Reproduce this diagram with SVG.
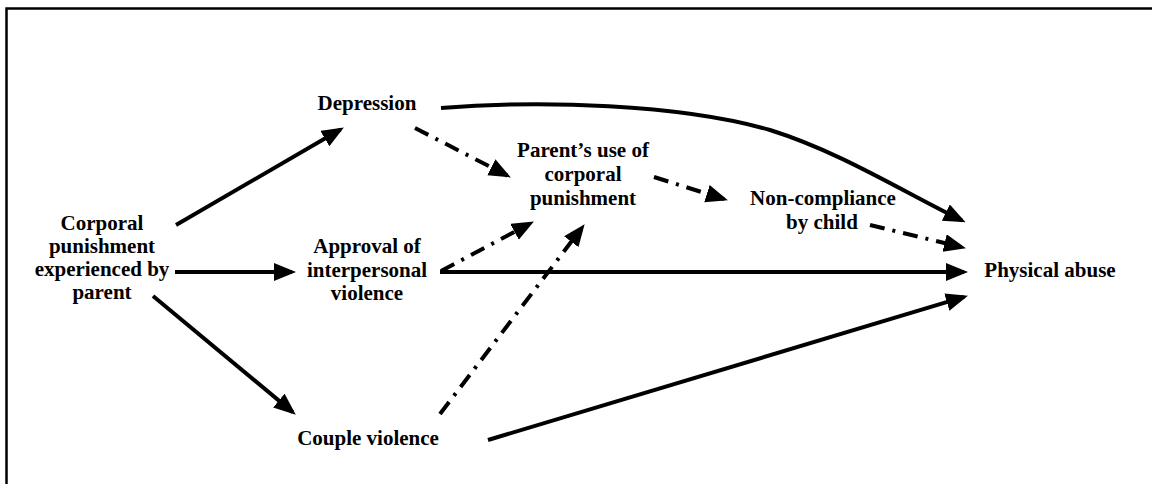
<svg xmlns="http://www.w3.org/2000/svg" width="1152" height="484" viewBox="0 0 1152 484">
  <style>
    .lbl { font-family: "Liberation Serif", "Times New Roman", serif; font-weight: bold; font-size: 21px; fill: #000; text-anchor: middle; }
    .edge { fill: none; stroke: #000; stroke-width: 4; marker-end: url(#head); }
    .dd { stroke-dasharray: 15 8 3 8; }
    .frame { fill: none; stroke: #000; stroke-width: 2.5; }
  </style>
  <defs>
    <marker id="head" markerUnits="userSpaceOnUse" markerWidth="24" markerHeight="20" refX="18" refY="9" orient="auto">
      <path d="M0,0 L22,9 L0,18 Z" fill="#000"/>
    </marker>
  </defs>
  <rect width="1152" height="484" fill="#fff"/>
  <!-- open frame: top and left rules -->
  <path class="frame" d="M6.5,484 L6.5,8.5 L1152,8.5"/>

  <g id="connectors">
    <!-- solid paths -->
    <path class="edge" d="M176,225 L340.4,129.5"/>
    <path class="edge" d="M175,272 L292,272"/>
    <path class="edge" d="M153,296 L292.7,412.1"/>
    <path class="edge" d="M440,272 L964,272"/>
    <path class="edge" d="M488,440 L964.1,296.9"/>
    <path class="edge" d="M441,108 C540,100 680,104 770,130 C840,152 900,190 962,220.5"/>
    <!-- dash-dot paths -->
    <path class="edge dd" d="M415,128 L507.3,175.6"/>
    <path class="edge dd" d="M654,177 L724.1,199.1"/>
    <path class="edge dd" d="M870,225 L962.1,247.3"/>
    <path class="edge dd" d="M441,271 L530.4,223.4"/>
    <path class="edge dd" d="M440,414 L582.2,227.4"/>
  </g>

  <g id="corporal-punishment-experienced">
    <text class="lbl" x="102" y="230">Corporal</text>
    <text class="lbl" x="102" y="253">punishment</text>
    <text class="lbl" x="102" y="276">experienced by</text>
    <text class="lbl" x="102" y="299">parent</text>
  </g>
  <g id="depression">
    <text class="lbl" x="367" y="110">Depression</text>
  </g>
  <g id="approval">
    <text class="lbl" x="367" y="253">Approval of</text>
    <text class="lbl" x="367" y="277">interpersonal</text>
    <text class="lbl" x="367" y="300">violence</text>
  </g>
  <g id="couple-violence">
    <text class="lbl" x="368" y="445">Couple violence</text>
  </g>
  <g id="parent-use">
    <text class="lbl" x="583" y="157">Parent’s use of</text>
    <text class="lbl" x="583" y="181">corporal</text>
    <text class="lbl" x="583" y="205">punishment</text>
  </g>
  <g id="non-compliance">
    <text class="lbl" x="823" y="205">Non-compliance</text>
    <text class="lbl" x="822" y="229">by child</text>
  </g>
  <g id="physical-abuse">
    <text class="lbl" x="1050" y="277">Physical abuse</text>
  </g>
</svg>
